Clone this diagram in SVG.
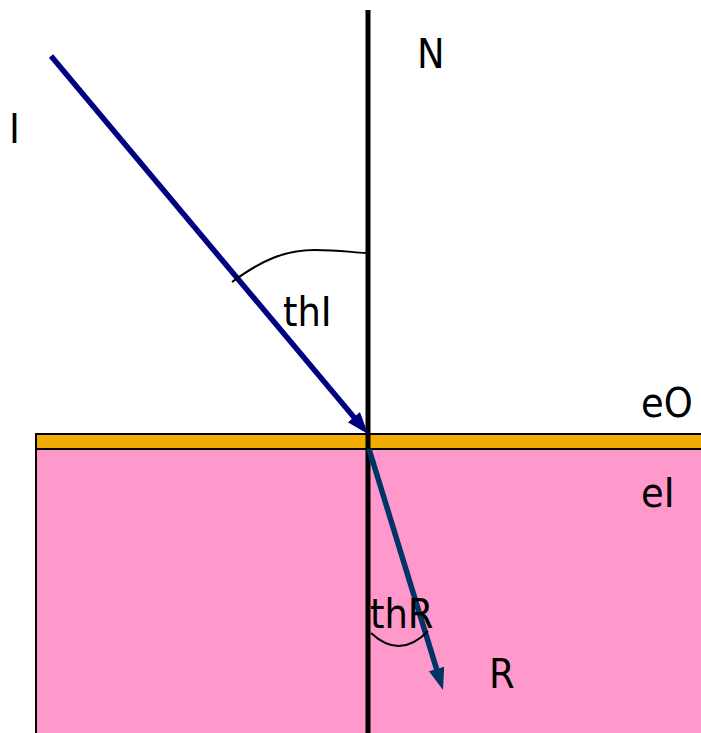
<svg xmlns="http://www.w3.org/2000/svg" width="701" height="733" viewBox="0 0 701 733">
<style>
.lbl{font-family:"DejaVu Sans Condensed","DejaVu Sans",sans-serif;font-size:41px;fill:#000}
.arc{fill:none;stroke:#000;stroke-width:2}
</style>
<defs>
<marker id="ahI" markerUnits="userSpaceOnUse" markerWidth="24" markerHeight="18" refX="8" refY="8" orient="auto">
<path d="M0,0 L22,8 L0,16 z" fill="#000080"/>
</marker>
<marker id="ahR" markerUnits="userSpaceOnUse" markerWidth="24" markerHeight="18" refX="8" refY="8" orient="auto">
<path d="M0,0 L22,8 L0,16 z" fill="#003366"/>
</marker>
</defs>
<rect width="701" height="733" fill="#fff"/>
<g id="medium1">
<rect x="36" y="449" width="667" height="290" fill="#ff99cc" stroke="#000" stroke-width="2"/>
</g>
<g id="surface">
<rect x="36" y="434" width="667" height="15" fill="#f0ad00" stroke="#000" stroke-width="2"/>
</g>
<g id="normal">
<line x1="368" y1="10" x2="368" y2="733" stroke="#000" stroke-width="5"/>
</g>
<g id="connectors">
<line x1="51" y1="56" x2="359" y2="423.3" stroke="#000080" stroke-width="5.5" marker-end="url(#ahI)"/>
<line x1="369" y1="449" x2="438.9" y2="676.6" stroke="#003366" stroke-width="5.5" marker-end="url(#ahR)"/>
<path class="arc" d="M232,282 C262,260 285,250 315,250 C335,250 350,252 366,253"/>
<path class="arc" d="M371,633 Q400,660 428,631"/>
</g>
<g id="labels">
<text class="lbl" x="9" y="143">I</text>
<text class="lbl" x="417" y="68">N</text>
<text class="lbl" x="283" y="326">thI</text>
<text class="lbl" x="641" y="417">eO</text>
<text class="lbl" x="641" y="507">eI</text>
<text class="lbl" x="370" y="628">thR</text>
<text class="lbl" x="489" y="688">R</text>
</g>
</svg>
